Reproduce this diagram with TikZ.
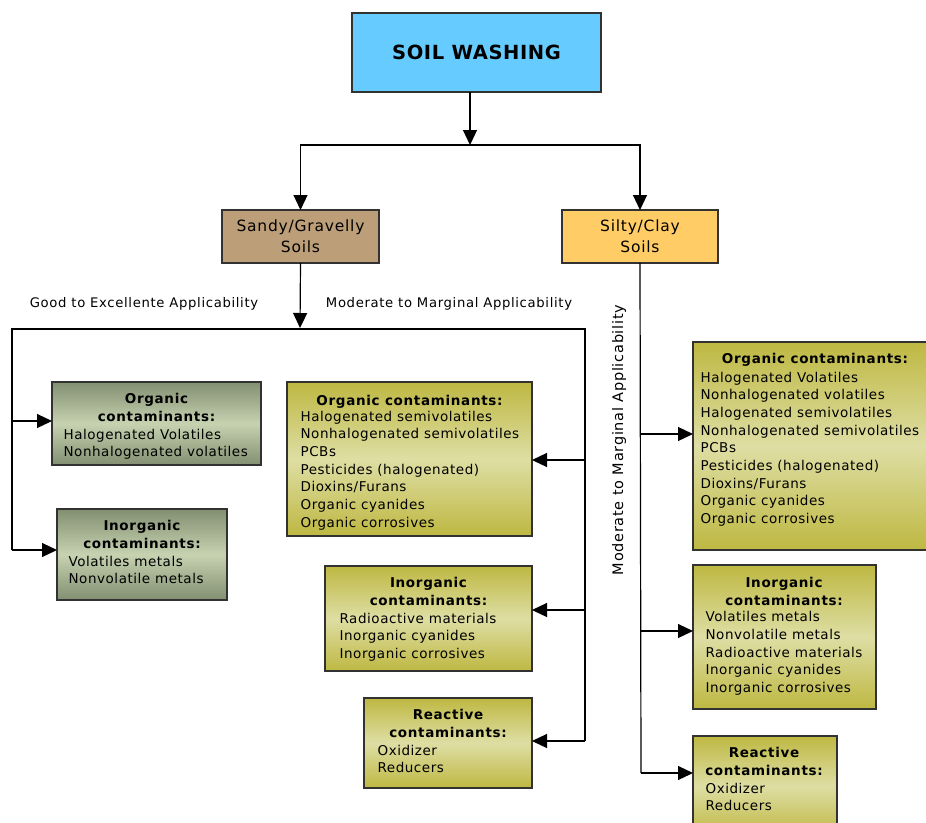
\documentclass[tikz,border=0pt]{standalone}
\usepackage{fontspec}
\setmainfont{DejaVu Sans}[LetterSpace=4,BoldFeatures={LetterSpace=5}]
\newfontfamily\titlefont{DejaVu Sans Bold}[LetterSpace=3]
\newfontfamily\lblfont{DejaVu Sans}[LetterSpace=5]
\usetikzlibrary{arrows.meta}
\definecolor{skyc}{RGB}{102,204,255}
\definecolor{sandc}{RGB}{188,158,120}
\definecolor{clayc}{RGB}{255,204,102}
\definecolor{olived}{RGB}{190,184,66}
\definecolor{olivel}{RGB}{222,222,164}
\definecolor{sageD}{RGB}{130,143,113}
\definecolor{sageL}{RGB}{198,210,176}
\definecolor{edgec}{RGB}{50,50,50}
\begin{document}
\begin{tikzpicture}[x=1pt,y=-1pt,
 line width=1.2pt,
 arr/.style={-{Triangle[length=15pt,width=14pt]}, draw=black},
 box/.style={draw=edgec, line width=1.4pt, anchor=north west, inner sep=0pt, outer sep=0pt},
 olivebox/.style={box, top color=olived, bottom color=olived, middle color=olivel},
 sagebox/.style={box, top color=sageD, bottom color=sageD, middle color=sageL},
 hd/.style={anchor=north, inner sep=0pt, align=center, font=\fontsize{13.5}{17.7}\selectfont\bfseries, execute at begin node=\strut},
 it/.style={anchor=north west, inner sep=0pt, align=left, font=\fontsize{13.5}{17.7}\selectfont, execute at begin node=\strut},
 lbl/.style={inner sep=0pt, font=\fontsize{13.2}{16}\lblfont}]
\useasboundingbox (0,0) rectangle (926,822);

% top level
\node[box, fill=skyc, minimum width=249pt, minimum height=79pt] (sw) at (352,13) {\fontsize{19.5}{22}\titlefont SOIL WASHING};
\node[box, fill=sandc, minimum width=157pt, minimum height=53pt, align=center, font=\fontsize{15.5}{21}\lblfont] (sandy) at (222,210) {Sandy/Gravelly\\Soils};
\node[box, fill=clayc, minimum width=156pt, minimum height=53pt, align=center, font=\fontsize{15.5}{21}\lblfont] (silty) at (562,210) {Silty/Clay\\Soils};

\coordinate (split) at (470,145);
\draw[arr] (sw.south -| split) -- (split);
\draw[arr] (split) -| (sandy.north);
\draw[arr] (split) -| (silty.north);

% labels
\node[lbl] (good) at (144,304) {Good to Excellente Applicability};
\node[lbl] (mod) at (449,304) {Moderate to Marginal Applicability};
\node[lbl, rotate=90, font=\fontsize{14.5}{16}\lblfont] (modr) at (619,440) {Moderate to Marginal Applicability};

% sandy branch
\coordinate (sj) at (300,328);
\coordinate (tl) at (12,329);
\coordinate (tr) at (585,329);
\coordinate (lb) at (12,550);
\coordinate (rb) at (585,741);
\draw[arr] (sandy.south) -- (sj);
\draw (lb) -- (tl) -- (tr) -- (rb);

% left boxes
\node[sagebox, minimum width=209pt, minimum height=83pt] (lo) at (52,382) {};
\node[hd] (loh) at (156.5,393) {Organic\\contaminants:};
\node[it] (loi) at (63,428.4) {Halogenated Volatiles\\Nonhalogenated volatiles};
\node[sagebox, minimum width=170pt, minimum height=91pt] (li) at (57,509) {};
\node[hd] (lih) at (142,520) {Inorganic\\contaminants:};
\node[it] (lii) at (68,555.4) {Volatiles metals\\Nonvolatile metals};
\draw[arr] (tl |- 0,421) -- (lo.west |- 0,421);
\draw[arr] (tl |- 0,550) -- (li.west |- 0,550);

% middle boxes
\node[olivebox, minimum width=245pt, minimum height=154pt] (mo) at (287,382) {};
\node[hd] (moh) at (409.5,392.5) {Organic contaminants:};
\node[it] (moi) at (300,410.2) {Halogenated semivolatiles\\Nonhalogenated semivolatiles\\PCBs\\Pesticides (halogenated)\\Dioxins/Furans\\Organic cyanides\\Organic corrosives};
\node[olivebox, minimum width=207pt, minimum height=105pt] (mi) at (325,566) {};
\node[hd] (mih) at (428.5,577) {Inorganic\\contaminants:};
\node[it] (mii) at (339,612.4) {Radioactive materials\\Inorganic cyanides\\Inorganic corrosives};
\node[olivebox, minimum width=168pt, minimum height=90pt] (mr) at (364,698) {};
\node[hd] (mrh) at (448,709) {Reactive\\contaminants:};
\node[it] (mri) at (377,744.4) {Oxidizer\\Reducers};
\draw[arr] (tr |- 0,460) -- (mo.east |- 0,460);
\draw[arr] (tr |- 0,610) -- (mi.east |- 0,610);
\draw[arr] (rb) -- (mr.east |- rb);

% right boxes
\coordinate (rt) at (641,773);
\draw (silty.south) -- (rt);
\node[olivebox, minimum width=244pt, minimum height=208pt] (ro) at (693,342) {};
\node[hd] (roh) at (815,351) {Organic contaminants:};
\node[it] (roi) at (700,371.2) {Halogenated Volatiles\\Nonhalogenated volatiles\\Halogenated semivolatiles\\Nonhalogenated semivolatiles\\PCBs\\Pesticides (halogenated)\\Dioxins/Furans\\Organic cyanides\\Organic corrosives};
\node[olivebox, minimum width=183pt, minimum height=144pt] (ri) at (693,565) {};
\node[hd] (rih) at (784,576.5) {Inorganic\\contaminants:};
\node[it] (rii) at (705,610.9) {Volatiles metals\\Nonvolatile metals\\Radioactive materials\\Inorganic cyanides\\Inorganic corrosives};
\node[olivebox, minimum width=144pt, minimum height=100pt] (rr) at (693,736) {};
\node[hd] (rrh) at (764,747) {Reactive\\contaminants:};
\node[it] (rri) at (705,782.4) {Oxidizer\\Reducers};
\draw[arr] (silty.south |- 0,434) -- (ro.west |- 0,434);
\draw[arr] (silty.south |- 0,631) -- (ri.west |- 0,631);
\draw[arr] (rt) -- (rr.west |- rt);
\end{tikzpicture}
\end{document}
